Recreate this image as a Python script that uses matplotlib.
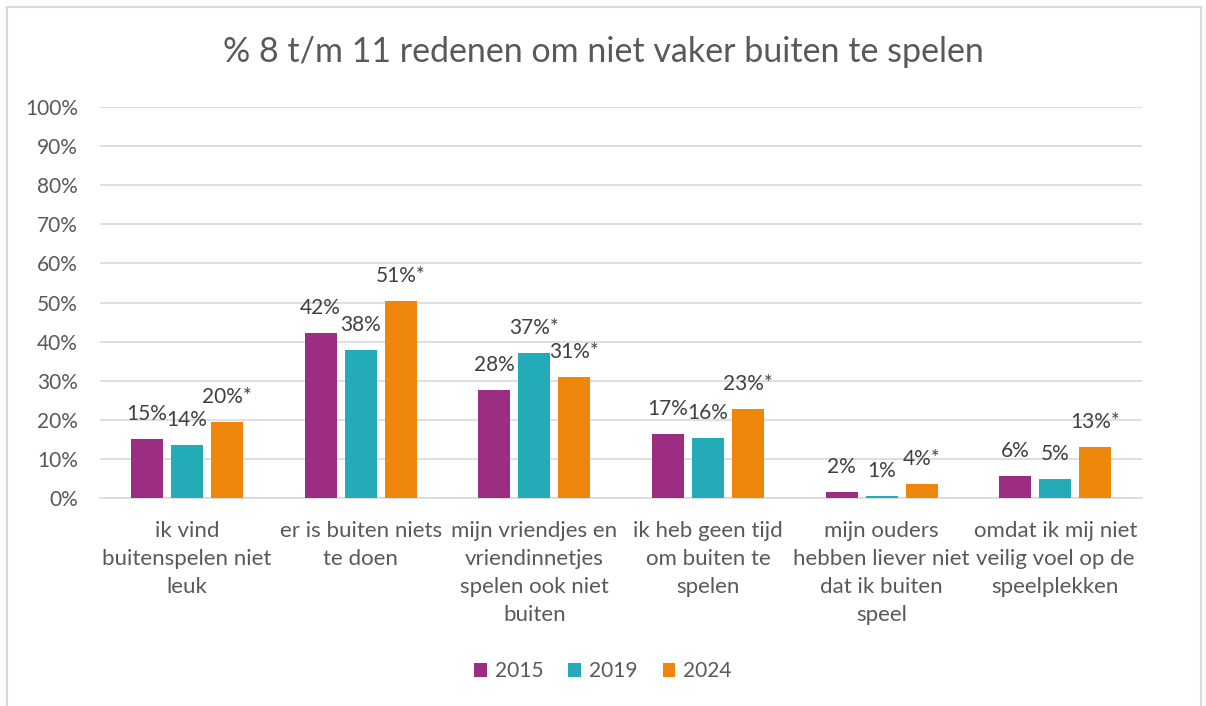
import matplotlib
matplotlib.use("Agg")
import matplotlib.pyplot as plt
import numpy as np
from matplotlib.lines import Line2D

# data
categories = [
    "ik vind\nbuitenspelen niet\nleuk",
    "er is buiten niets\nte doen",
    "mijn vriendjes en\nvriendinnetjes\nspelen ook niet\nbuiten",
    "ik heb geen tijd\nom buiten te\nspelen",
    "mijn ouders\nhebben liever niet\ndat ik buiten\nspeel",
    "omdat ik mij niet\nveilig voel op de\nspeelplekken",
]
years = ["2015", "2019", "2024"]
values_2015 = [15.2, 42.1, 27.7, 16.5, 1.6, 5.7]
values_2019 = [13.7, 38.0, 37.1, 15.5, 0.5, 5.0]
values_2024 = [19.5, 50.5, 31.1, 22.7, 3.6, 13.1]
labels_2015 = ["15%", "42%", "28%", "17%", "2%", "6%"]
labels_2019 = ["14%", "38%", "37%*", "16%", "1%", "5%"]
labels_2024 = ["20%*", "51%*", "31%*", "23%*", "4%*", "13%*"]
colors = ["#9B2E83", "#23ABB8", "#EE860B"]

plt.rcParams['font.family'] = ['Lato', 'DejaVu Sans']
text_col = "#595959"

fig = plt.figure(figsize=(12.06, 7.06), dpi=100)
ax = fig.add_axes([0.083, 0.294, 0.864, 0.555])

x = np.arange(len(categories))
step = 0.23
width = 0.184
series = [values_2015, values_2019, values_2024]
labels = [labels_2015, labels_2019, labels_2024]
for i, (vals, labs) in enumerate(zip(series, labels)):
    pos = x + (i - 1) * step
    bars = ax.bar(pos, vals, width, color=colors[i], label=years[i], zorder=3)
    for b, lab in zip(bars, labs):
        ax.annotate(lab, (b.get_x() + b.get_width() / 2, b.get_height()),
                    xytext=(0, 18), textcoords="offset points",
                    ha="center", va="center", fontsize=15, color="#404040")

ax.set_xlim(-0.5, len(categories) - 0.5)
ax.set_ylim(0, 100)
ax.set_yticks(range(0, 101, 10))
ax.set_yticklabels([f"{v}%" for v in range(0, 101, 10)])
ax.yaxis.grid(True, color="#D9D9D9", linewidth=1.2, zorder=0)
ax.set_xticks(x)
ax.set_xticklabels(categories, fontsize=16, color=text_col, linespacing=1.5,
                   va="top")
ax.tick_params(axis="y", labelsize=15, labelcolor=text_col, length=0, pad=16)
ax.tick_params(axis="x", length=0, pad=16)
for s in ["top", "right", "left"]:
    ax.spines[s].set_visible(False)
ax.spines["bottom"].set_color("#D9D9D9")
ax.spines["bottom"].set_linewidth(1.2)

fig.text(0.5, 0.926, "% 8 t/m 11 redenen om niet vaker buiten te spelen",
         ha="center", va="center", fontsize=24.5, color=text_col)

leg = fig.legend(loc="center", bbox_to_anchor=(0.5, 0.049), ncol=3,
                 frameon=False, fontsize=15, handlelength=0.6, handleheight=0.6,
                 handletextpad=0.4, columnspacing=1.2)
for t in leg.get_texts():
    t.set_color(text_col)

# chart area border
fig.add_artist(Line2D([0.006, 0.006], [0.0, 0.99], color="#D9D9D9", lw=1.5,
                      transform=fig.transFigure))
fig.add_artist(Line2D([0.006, 0.996], [0.99, 0.99], color="#D9D9D9", lw=1.5,
                      transform=fig.transFigure))
fig.add_artist(Line2D([0.996, 0.996], [0.0, 0.99], color="#D9D9D9", lw=1.5,
                      transform=fig.transFigure))

fig.savefig("out.png", dpi=100)
